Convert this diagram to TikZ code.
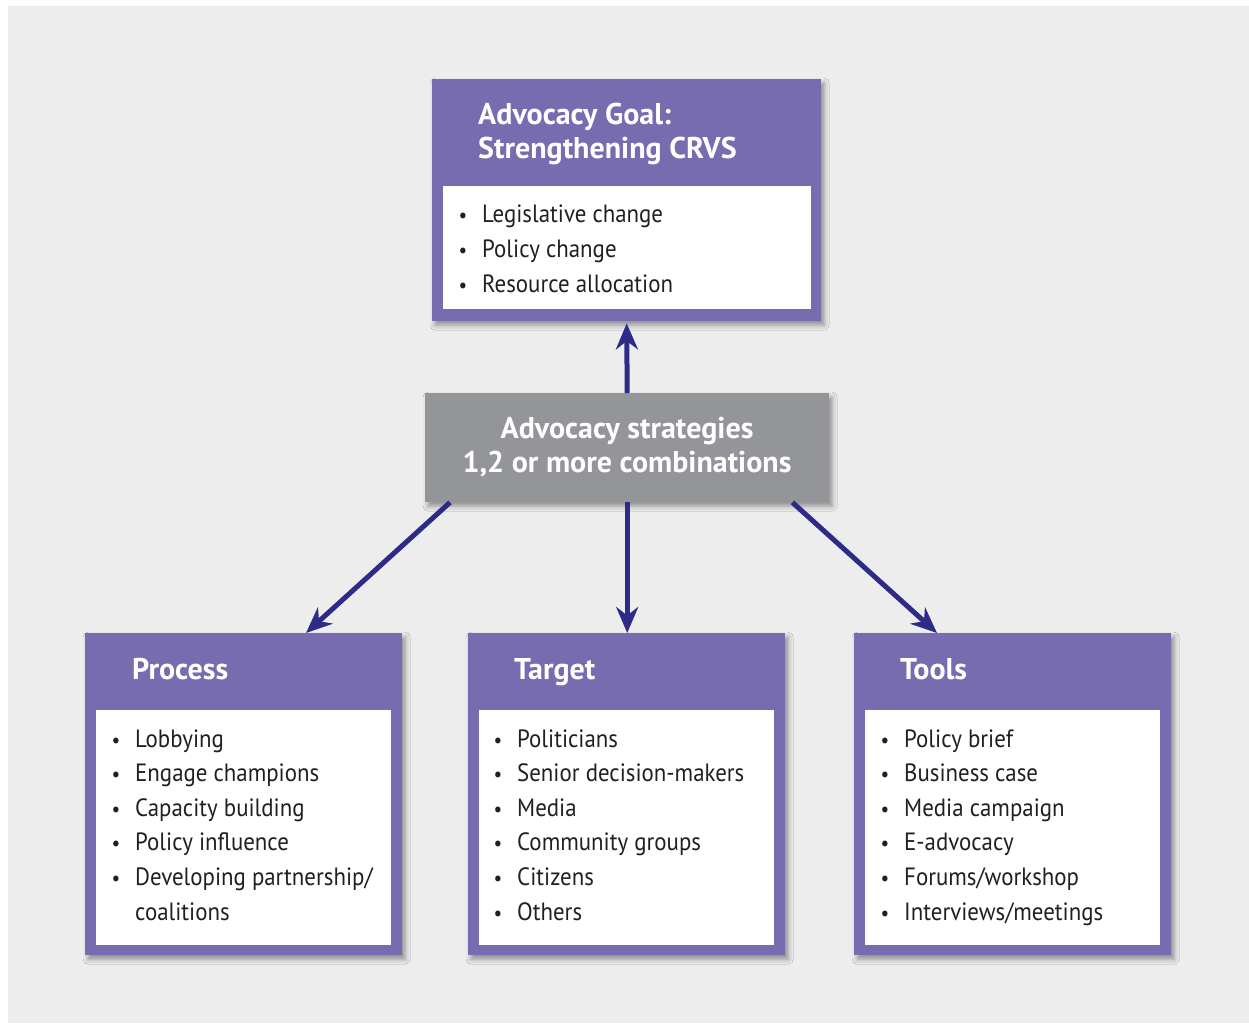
\documentclass[tikz,border=0pt]{standalone}
\usepackage{fontspec}
\setmainfont{PT Sans}[FakeStretch=0.915, BoldFeatures={FakeStretch=1.0}]
\usetikzlibrary{arrows.meta,shadows.blur}
\definecolor{bgcol}{HTML}{EDEDED}
\definecolor{boxpurple}{HTML}{776CAF}
\definecolor{boxgrey}{HTML}{939598}
\definecolor{arrowblue}{HTML}{2E2A87}
\definecolor{inktext}{HTML}{231F20}
\tikzset{
  outerbox/.style={fill=boxpurple, draw=none, inner sep=0pt, anchor=north west,
    blur shadow={shadow xshift=3pt, shadow yshift=-4pt, shadow blur radius=5pt, shadow opacity=40}},
  greybox/.style={fill=boxgrey, draw=none, inner sep=0pt, anchor=north west,
    blur shadow={shadow xshift=3pt, shadow yshift=-4pt, shadow blur radius=5pt, shadow opacity=40}},
  innerbox/.style={fill=white, draw=none, inner sep=0pt, anchor=north west},
  titletext/.style={text=white, font=\bfseries\fontsize{30}{34}\selectfont, inner sep=0pt, anchor=base west, align=left},
  striptext/.style={text=white, font=\bfseries\fontsize{30}{34}\selectfont, inner sep=0pt, align=center},
  item/.style={text=inktext, font=\fontsize{25}{35}\selectfont, inner sep=0pt, anchor=base west},
  link/.style={draw=arrowblue, line width=5pt, -{Stealth[length=26pt, width=22pt]}},
}
\newcommand{\itembullet}{\llap{{\fontsize{21}{21}\selectfont •}\hspace{15pt}}}
\begin{document}
\begin{tikzpicture}[x=1pt, y=-1pt]
  \useasboundingbox (0,0) rectangle (1249,1023);
  \fill[bgcol] (8,6) rectangle (1249,1023);

  % goal box
  \node[outerbox, minimum width=389pt, minimum height=242pt] (goal) at (432,79) {};
  \node[innerbox, minimum width=368pt, minimum height=123pt] (goalin) at (443,186) {};
  \node[titletext] (goaltitle) at (478,158) {Advocacy Goal:\\Strengthening CRVS};
  \foreach \t [count=\i] in {Legislative change, Policy change, Resource allocation}
    \node[item] (g\i) at (482,{222+35*(\i-1)}) {\itembullet\t};

  % strategies box
  \node[greybox, minimum width=404pt, minimum height=109pt] (strat) at (425,393) {};
  \node[striptext] (strattext) at (627,447) {Advocacy strategies\\1,2 or more combinations};

  % process box
  \node[outerbox, minimum width=317pt, minimum height=322pt] (proc) at (85,633) {};
  \node[innerbox, minimum width=295pt, minimum height=235pt] (procin) at (96,710) {};
  \node[titletext] (proctitle) at (132,679) {Process};
  \foreach \t [count=\i] in {Lobbying, Engage champions, Capacity building, Policy influence, Developing partnership/}
    \node[item] (p\i) at (135,{747+34.6*(\i-1)}) {\itembullet\t};
  \node[item] (p6) at (135,920) {coalitions};

  % target box
  \node[outerbox, minimum width=317pt, minimum height=322pt] (targ) at (468,633) {};
  \node[innerbox, minimum width=295pt, minimum height=235pt] (targin) at (479,710) {};
  \node[titletext] (targtitle) at (514,679) {Target};
  \foreach \t [count=\i] in {Politicians, Senior decision-makers, Media, Community groups, Citizens, Others}
    \node[item] (t\i) at (517,{747+34.6*(\i-1)}) {\itembullet\t};

  % tools box
  \node[outerbox, minimum width=317pt, minimum height=322pt] (tools) at (854,633) {};
  \node[innerbox, minimum width=295pt, minimum height=235pt] (toolsin) at (865,710) {};
  \node[titletext] (toolstitle) at (900,679) {Tools};
  \foreach \t [count=\i] in {Policy brief, Business case, Media campaign, E-advocacy, Forums/workshop, Interviews/meetings}
    \node[item] (o\i) at (904,{747+34.6*(\i-1)}) {\itembullet\t};

  % connectors
  \draw[link] (strat.north) -- ([yshift=-2pt]goal.south);
  \draw[link] ([xshift=25pt]strat.south west) -- ([xshift=221pt]proc.north west);
  \draw[link] (strat.south) -- (targ.north -| strat.south);
  \draw[link] ([xshift=-37pt]strat.south east) -- ([xshift=83pt]tools.north west);
\end{tikzpicture}
\end{document}
